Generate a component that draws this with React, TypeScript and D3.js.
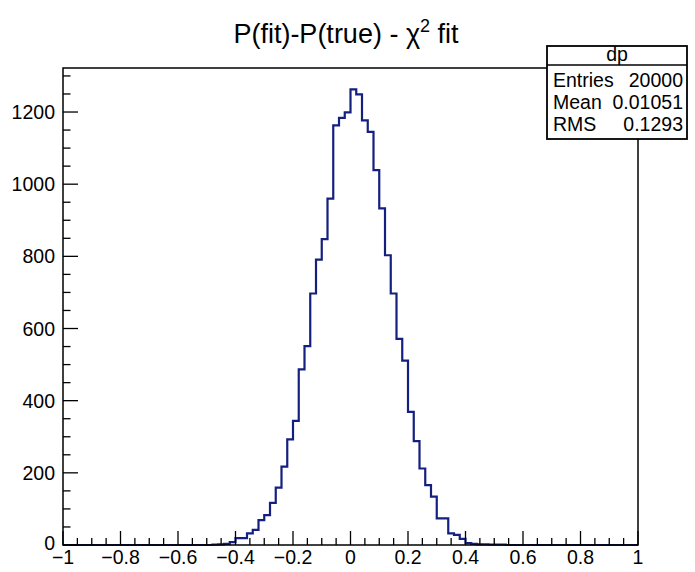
import React from "react";
import * as d3 from "d3";

// ---- data ----
const xMin = -1;
const xMax = 1;
const nBins = 100;
const counts: number[] = [
  0, 0, 0, 0, 0, 0, 0, 0, 0, 0,
  0, 0, 0, 0, 0, 0, 0, 0, 0, 0,
  0, 0, 0, 0, 0, 0, 1, 2, 3, 8,
  19, 19, 32, 42, 69, 83, 117, 159, 217, 293,
  344, 487, 551, 697, 791, 848, 960, 1163, 1184, 1199,
  1263, 1249, 1177, 1145, 1039, 933, 803, 697, 571, 511,
  369, 288, 212, 166, 134, 74, 74, 32, 28, 17,
  5, 3, 2, 2, 1, 1, 1, 0, 0, 0,
  0, 0, 0, 0, 0, 0, 0, 0, 0, 0,
  0, 0, 0, 0, 0, 0, 0, 0, 0, 0,
];
const xTickValues = [-1, -0.8, -0.6, -0.4, -0.2, 0, 0.2, 0.4, 0.6, 0.8, 1];
const yTickValues = [0, 200, 400, 600, 800, 1000, 1200];
const yMaxValue = 1322;
const titleMain = "P(fit)-P(true) - \u03C7";
const titleSup = "2";
const titleEnd = " fit";
const statsName = "dp";
const statsLabels = ["Entries", "Mean", "RMS"];
const statsValues = ["20000", "0.01051", "0.1293"];

// ---- layout ----
const W = 695;
const H = 572;
const left = 63;
const right = 638;
const top = 68;
const bottom = 545;
const font = "'Liberation Sans', Arial, Helvetica, sans-serif";
const lineColor = "#14207f";
const labelSize = 19.5;

const fmt = (v: number) => {
  const s = d3.format("")(Math.round(v * 100) / 100);
  return s.replace("-", "\u2212");
};

export default function App() {
  const x = d3.scaleLinear().domain([xMin, xMax]).range([left, right]);
  const y = d3.scaleLinear().domain([0, yMaxValue]).range([bottom, top]);
  const bw = (xMax - xMin) / nBins;

  // step outline
  const pts: [number, number][] = [[xMin, 0]];
  counts.forEach((c, i) => {
    const x0 = xMin + i * bw;
    const x1 = xMin + (i + 1) * bw;
    pts.push([x0, c]);
    pts.push([x1, c]);
  });
  pts.push([xMax, 0]);
  const line = d3
    .line<[number, number]>()
    .x((d) => x(d[0]))
    .y((d) => y(d[1]));

  const xMinor = d3.range(0, 41).map((i) => xMin + i * 0.05);
  const yMinor = d3.range(0, 27).map((i) => i * 50);

  const sbL = 547;
  const sbR = 687;
  const sbT = 46;
  const sbDiv = 65;
  const sbB = 139;
  const rowBase = [87, 109, 131];

  return (
    <svg width={W} height={H} style={{ display: "block", position: "absolute", left: 0, top: 0 }} fontFamily={font}>
      <rect x={0} y={0} width={W} height={H} fill="#fff" />
      {/* title */}
      <text x={346} y={43} textAnchor="middle" fontSize={27} fill="#000">
        {titleMain}
        <tspan fontSize={18} dy={-11}>{titleSup}</tspan>
        <tspan dy={11}>{titleEnd}</tspan>
      </text>

      {/* histogram */}
      <path d={line(pts) || ""} fill="none" stroke={lineColor} strokeWidth={2.2} strokeLinejoin="miter" />

      {/* frame */}
      <rect x={left} y={top} width={right - left} height={bottom - top} fill="none" stroke="#000" strokeWidth={1.5} />

      {/* x ticks */}
      {xMinor.map((v, i) => {
        const major = i % 4 === 0;
        return (
          <line key={"xt" + i} x1={x(v)} x2={x(v)} y1={bottom} y2={bottom - (major ? 14 : 7)} stroke="#000" strokeWidth={1.3} />
        );
      })}
      {xTickValues.map((v) => (
        <text key={"xl" + v} x={x(v)} y={564} textAnchor="middle" fontSize={labelSize} fill="#000">
          {fmt(v)}
        </text>
      ))}

      {/* y ticks */}
      {yMinor.map((v, i) => {
        const major = i % 4 === 0;
        return (
          <line key={"yt" + i} x1={left} x2={left + (major ? 15 : 7.5)} y1={y(v)} y2={y(v)} stroke="#000" strokeWidth={1.3} />
        );
      })}
      {yTickValues.map((v) => (
        <text key={"yl" + v} x={55} y={y(v) + (v === 0 ? 5 : 7)} textAnchor="end" fontSize={labelSize} fill="#000">
          {fmt(v)}
        </text>
      ))}

      {/* stats box */}
      <rect x={sbL} y={sbT} width={sbR - sbL} height={sbB - sbT} fill="#fff" stroke="#000" strokeWidth={1.8} />
      <line x1={sbL} x2={sbR} y1={sbDiv} y2={sbDiv} stroke="#000" strokeWidth={1.5} />
      <text x={(sbL + sbR) / 2} y={61} textAnchor="middle" fontSize={labelSize} fill="#000">
        {statsName}
      </text>
      {statsLabels.map((lab, i) => (
        <g key={lab}>
          <text x={553} y={rowBase[i]} fontSize={labelSize} fill="#000">
            {lab}
          </text>
          <text x={683} y={rowBase[i]} textAnchor="end" fontSize={labelSize} fill="#000">
            {statsValues[i]}
          </text>
        </g>
      ))}
    </svg>
  );
}
